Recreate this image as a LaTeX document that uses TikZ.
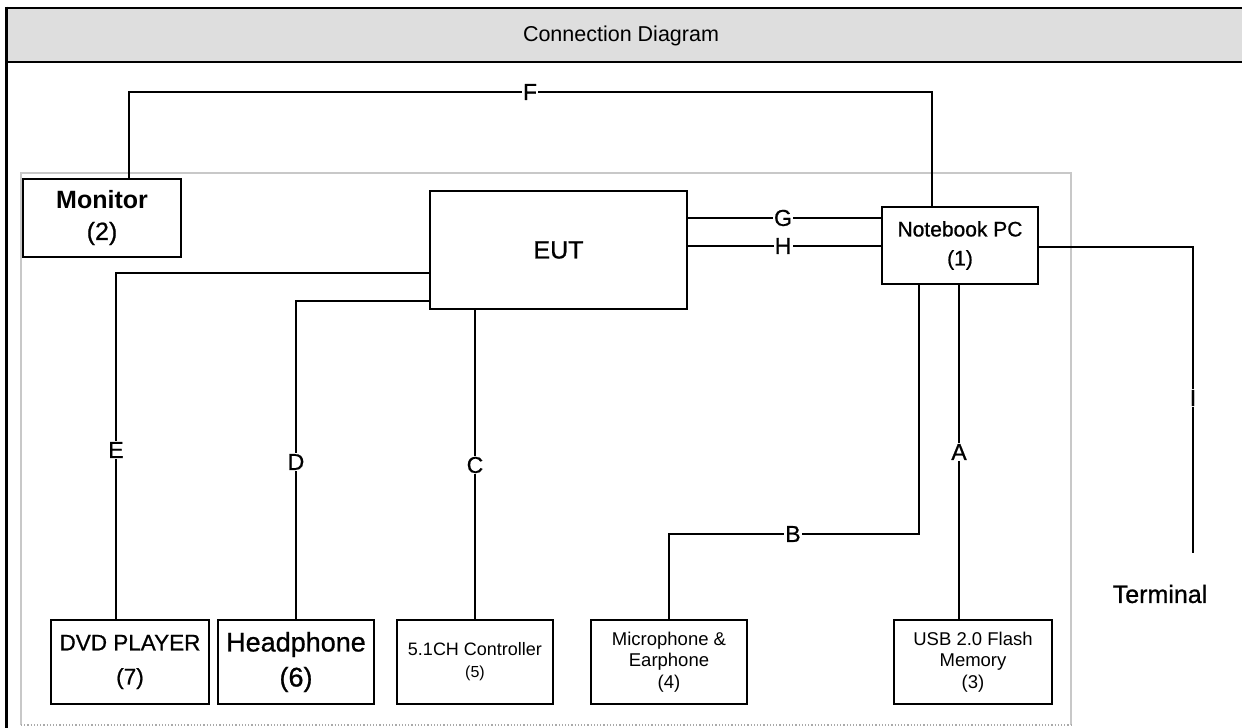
\documentclass[tikz,border=0pt]{standalone}
\usepackage{fontspec}
\setmainfont{Liberation Sans}
\newfontfamily\heavy[FakeBold=0.8]{Liberation Sans}
\newcommand{\fsz}[2]{\fontsize{#1}{#2}\selectfont}
\begin{document}
\begin{tikzpicture}[x=1pt,y=-1pt,
  box/.style={draw=black, line width=2.9pt, fill=white, align=center, inner sep=0pt},
  wire/.style={draw=black, line width=2.5pt},
  lab/.style={fill=white, inner sep=1.2pt, font=\heavy\fsz{23pt}{26pt}},
  framel/.style={draw=black, line width=2.6pt}]
\useasboundingbox (0,0) rectangle (1242,728);
% header
\fill[fill={rgb,255:red,222;green,222;blue,222}] (6,8) rectangle (1242,62);
\draw[framel] (6,8) -- (1242,8);
\draw[framel] (6,62) -- (1242,62);
\draw[framel] (6.5,6.7) -- (6.5,728);
\node[font=\fsz{21.5pt}{26pt}] (title) at (621,36) {Connection Diagram};
% inner gray frame
\draw[draw={rgb,255:red,200;green,200;blue,200}, line width=1.2pt] (21,725) -- (21,173) -- (1071,173) -- (1071,725);
\draw[draw={rgb,255:red,170;green,170;blue,170}, line width=1.2pt, dotted] (21,725) -- (1071,725);
% boxes
\node[box, minimum width=158pt, minimum height=78pt, font=\fsz{25pt}{31pt}\bfseries] (mon) at (102,218) {Monitor\\\mdseries\heavy(2)};
\node[box, minimum width=257pt, minimum height=118pt, font=\heavy\fsz{25pt}{30pt}] (eut) at (558.5,250) {EUT};
\node[box, minimum width=156pt, minimum height=77pt, font=\heavy\fsz{21pt}{29pt}] (nb) at (960,245.5) {Notebook PC\\(1)};
\node[box, minimum width=158pt, minimum height=84pt, font=\heavy\fsz{22.5pt}{34pt}] (dvd) at (130,662) {DVD PLAYER\\(7)};
\node[box, minimum width=156pt, minimum height=84pt, font=\heavy\fsz{27pt}{35pt}] (hp) at (296,662) {Headphone\\(6)};
\node[box, minimum width=156pt, minimum height=84pt, font=\fsz{18pt}{22pt}] (c51) at (475,662) {5.1CH Controller\\\fsz{16pt}{22pt}(5)};
\node[box, minimum width=156pt, minimum height=84pt, font=\fsz{18.5pt}{21.5pt}] (mic) at (669,662) {Microphone \&\\Earphone\\(4)};
\node[box, minimum width=158pt, minimum height=84pt, font=\fsz{18.5pt}{21.5pt}] (usb) at (973,662) {USB 2.0 Flash\\Memory\\(3)};
\node[font=\heavy\fsz{25pt}{30pt}] (term) at (1160,594) {Terminal};
% routing coordinates
\coordinate (fL) at (129,92);
\coordinate (fR) at (932,92);
\coordinate (gy) at (0,218);
\coordinate (hy) at (0,246);
\coordinate (ex) at (116,273);
\coordinate (dx) at (296,301);
\coordinate (cx) at (475,0);
\coordinate (bR) at (919,534);
\coordinate (bL) at (669,534);
\coordinate (ax) at (959,0);
\coordinate (iT) at (1193,247);
\coordinate (iE) at (1193,553);
% connectors
\draw[wire] (fL |- mon.north) -- (fL) -- (fR) -- (fR |- nb.north);
\draw[wire] (eut.east |- gy) -- (nb.west |- gy);
\draw[wire] (eut.east |- hy) -- (nb.west |- hy);
\draw[wire] (nb.east |- iT) -- (iT) -- (iE);
\draw[wire] (eut.west |- ex) -- (ex) -- (ex |- dvd.north);
\draw[wire] (eut.west |- dx) -- (dx) -- (dx |- hp.north);
\draw[wire] (cx |- eut.south) -- (cx |- c51.north);
\draw[wire] (bR |- nb.south) -- (bR) -- (bL) -- (bL |- mic.north);
\draw[wire] (ax |- nb.south) -- (ax |- usb.north);
% labels
\node[lab] (lF) at (530,92) {F};
\node[lab] (lG) at (783,218) {G};
\node[lab] (lH) at (783,246) {H};
\node[lab] (lI) at (1193,398) {I};
\node[lab] (lE) at (116,450) {E};
\node[lab] (lD) at (296,462) {D};
\node[lab] (lC) at (475,465) {C};
\node[lab] (lB) at (793,534) {B};
\node[lab] (lA) at (959,452) {A};
\end{tikzpicture}
\end{document}
